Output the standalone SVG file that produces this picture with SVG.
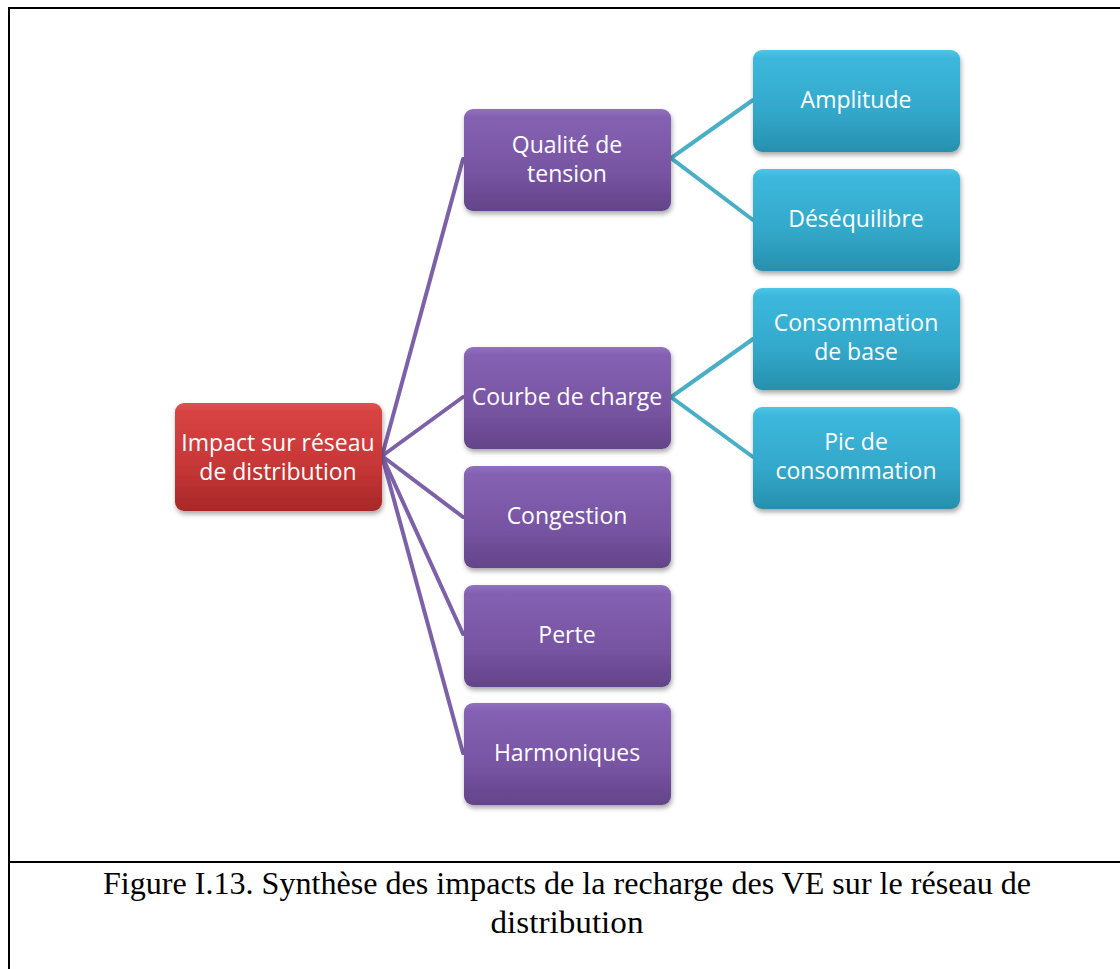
<svg xmlns="http://www.w3.org/2000/svg" width="1120" height="969" viewBox="0 0 1120 969">
<defs>
<linearGradient id="gRed" x1="0" y1="0" x2="0" y2="1">
<stop offset="0" stop-color="#e05050"/><stop offset="0.08" stop-color="#d84343"/><stop offset="0.6" stop-color="#c63636"/><stop offset="1" stop-color="#a82828"/>
</linearGradient>
<linearGradient id="gPur" x1="0" y1="0" x2="0" y2="1">
<stop offset="0" stop-color="#9271c0"/><stop offset="0.08" stop-color="#8461b2"/><stop offset="0.6" stop-color="#7855a3"/><stop offset="1" stop-color="#634489"/>
</linearGradient>
<linearGradient id="gBlu" x1="0" y1="0" x2="0" y2="1">
<stop offset="0" stop-color="#4cc6e6"/><stop offset="0.08" stop-color="#3cb8dc"/><stop offset="0.6" stop-color="#33a8ca"/><stop offset="1" stop-color="#2790ae"/>
</linearGradient>
<filter id="sh" x="-10%" y="-10%" width="125%" height="130%">
<feDropShadow dx="1" dy="3" stdDeviation="2.5" flood-color="#000" flood-opacity="0.35"/>
</filter>
</defs>
<style>
.box{filter:url(#sh)}
.red{fill:url(#gRed)}
.pur{fill:url(#gPur)}
.blu{fill:url(#gBlu)}
.lbl{font-family:"Open Sans","Noto Sans",sans-serif;font-size:23px;fill:#fff;text-anchor:middle}
.cp{stroke:#7d61a8;stroke-width:4;fill:none;stroke-linecap:round}
.cb{stroke:#49aec6;stroke-width:4;fill:none;stroke-linecap:round}
.frame{stroke:#000;stroke-width:2;fill:none}
.cap{font-family:"Liberation Serif","DejaVu Serif",serif;font-size:31px;fill:#000;text-anchor:middle}
</style>
<rect width="1120" height="969" fill="#fff"/>
<g id="frame">
<path class="frame" d="M9,969 V8 H1120"/>
<path class="frame" d="M9,862 H1120"/>
</g>
<g id="connectors">
<line class="cp" x1="382" y1="456" x2="463" y2="159"/>
<line class="cp" x1="382" y1="456" x2="463" y2="397"/>
<line class="cp" x1="382" y1="456" x2="463" y2="517"/>
<line class="cp" x1="382" y1="456" x2="463" y2="634"/>
<line class="cp" x1="382" y1="456" x2="463" y2="753"/>
<polyline class="cb" points="753,100 671,158 753,220"/>
<polyline class="cb" points="753,339 671,397 753,457"/>
</g>
<g id="n-root"><rect class="box red" x="175" y="403" width="207" height="108" rx="9"/>
<text class="lbl" x="278" y="451">Impact sur réseau</text><text class="lbl" x="278" y="480">de distribution</text></g>
<g id="n-qualite"><rect class="box pur" x="464" y="109" width="207" height="102" rx="9"/>
<text class="lbl" x="567" y="153">Qualité de</text><text class="lbl" x="567" y="182">tension</text></g>
<g id="n-courbe"><rect class="box pur" x="464" y="347" width="207" height="102" rx="9"/>
<text class="lbl" x="567" y="405">Courbe de charge</text></g>
<g id="n-congestion"><rect class="box pur" x="464" y="466" width="207" height="102" rx="9"/>
<text class="lbl" x="567" y="524">Congestion</text></g>
<g id="n-perte"><rect class="box pur" x="464" y="585" width="207" height="102" rx="9"/>
<text class="lbl" x="567" y="643">Perte</text></g>
<g id="n-harmoniques"><rect class="box pur" x="464" y="703" width="207" height="102" rx="9"/>
<text class="lbl" x="567" y="761">Harmoniques</text></g>
<g id="n-amplitude"><rect class="box blu" x="753" y="50" width="207" height="102" rx="9"/>
<text class="lbl" x="856" y="108">Amplitude</text></g>
<g id="n-desequilibre"><rect class="box blu" x="753" y="169" width="207" height="102" rx="9"/>
<text class="lbl" x="856" y="227">Déséquilibre</text></g>
<g id="n-consommation"><rect class="box blu" x="753" y="288" width="207" height="102" rx="9"/>
<text class="lbl" x="856" y="331">Consommation</text><text class="lbl" x="856" y="360">de base</text></g>
<g id="n-pic"><rect class="box blu" x="753" y="407" width="207" height="102" rx="9"/>
<text class="lbl" x="856" y="450">Pic de</text><text class="lbl" x="856" y="479">consommation</text></g>
<g id="caption">
<text class="cap" x="567" y="894" textLength="928" lengthAdjust="spacingAndGlyphs">Figure I.13. Synthèse des impacts de la recharge des VE sur le réseau de</text>
<text class="cap" x="567" y="933" textLength="153" lengthAdjust="spacingAndGlyphs">distribution</text>
</g>
</svg>
